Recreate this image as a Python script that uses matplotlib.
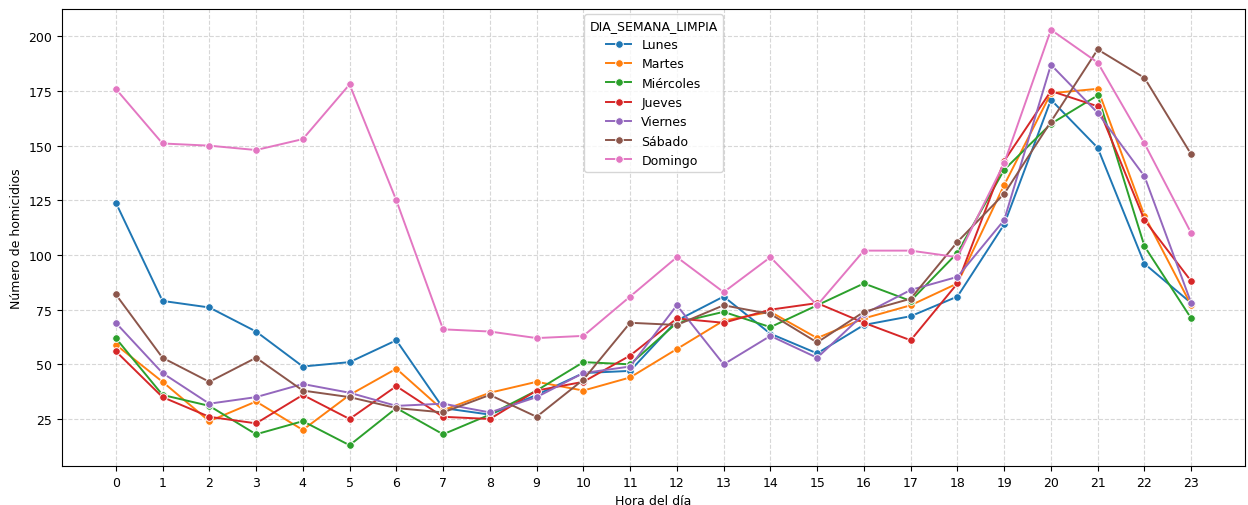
import matplotlib
matplotlib.use("Agg")
import matplotlib.pyplot as plt

horas = list(range(24))
dias = ["Lunes", "Martes", "Miércoles", "Jueves", "Viernes", "Sábado", "Domingo"]

lunes = [124, 79, 76, 65, 49, 51, 61, 30, 27, 36, 46, 47, 70, 81, 64, 55, 68, 72, 81, 114, 171, 149, 96, 78]
martes = [59, 42, 24, 33, 20, 36, 48, 29, 37, 42, 38, 44, 57, 70, 74, 62, 71, 77, 87, 132, 174, 176, 118, 77]
miercoles = [62, 36, 31, 18, 24, 13, 30, 18, 27, 38, 51, 50, 69, 74, 67, 77, 87, 79, 101, 139, 160, 173, 104, 71]
jueves = [56, 35, 26, 23, 36, 25, 40, 26, 25, 38, 42, 54, 71, 69, 75, 78, 69, 61, 87, 143, 175, 168, 116, 88]
viernes = [69, 46, 32, 35, 41, 37, 31, 32, 28, 35, 46, 49, 77, 50, 63, 53, 73, 84, 90, 116, 187, 165, 136, 78]
sabado = [82, 53, 42, 53, 38, 35, 30, 28, 36, 26, 43, 69, 68, 77, 73, 60, 74, 80, 106, 128, 161, 194, 181, 146]
domingo = [176, 151, 150, 148, 153, 178, 125, 66, 65, 62, 63, 81, 99, 83, 99, 77, 102, 102, 99, 142, 203, 188, 151, 110]

series = [lunes, martes, miercoles, jueves, viernes, sabado, domingo]
colors = ["#1f77b4", "#ff7f0e", "#2ca02c", "#d62728", "#9467bd", "#8c564b", "#e377c2"]

plt.rcParams["font.size"] = 9

fig = plt.figure(figsize=(12.48, 5.06), dpi=100)
ax = fig.add_axes([62 / 1248, 1 - 467 / 506, (1245 - 62) / 1248, (467 - 10) / 506])

for name, vals, c in zip(dias, series, colors):
    ax.plot(horas, vals, marker="o", ms=5.5, mec="white", mew=0.7, lw=1.4,
            color=c, label=name)

ax.set_xticks(horas)
ax.set_yticks([25, 50, 75, 100, 125, 150, 175, 200])
ax.grid(True, linestyle="--", alpha=0.5)
ax.set_xlabel("Hora del día")
ax.set_ylabel("Número de homicidios")
ax.legend(title="DIA_SEMANA_LIMPIA", loc="upper center", borderaxespad=0.4)

fig.savefig("out.png", dpi=100)
